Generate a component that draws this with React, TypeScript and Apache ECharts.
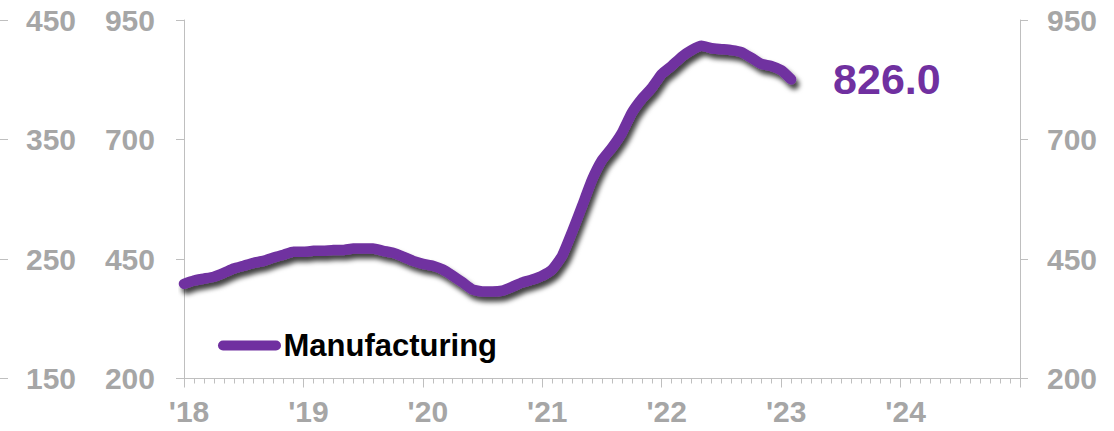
import React, { useEffect, useRef } from "react";
import * as echarts from "echarts";

// Monthly values, Jan 2018 .. Feb 2023
const manufacturing = [
  398, 405, 409, 413, 421, 430, 436, 442, 446, 453, 459, 465,
  465, 467, 467, 469, 469, 472, 472, 472, 467, 463, 455, 446,
  440, 436, 428, 415, 401, 386, 382, 382, 384, 392, 401, 407,
  415, 428, 457, 507, 561, 616, 657, 683, 714, 756, 785, 808,
  837, 854, 873, 887, 896, 891, 889, 887, 883, 871, 858, 854,
  845, 826,
];
const yearLabels = ["'18", "'19", "'20", "'21", "'22", "'23", "'24"];
const seriesName = "Manufacturing";
const lastLabel = "826.0";

const GRAY = "#a6a6a6";
const AXIS = "#bfbfbf";
const PURPLE = "#7030a0";
const FONT = "'Liberation Sans', Arial, sans-serif";

export default function App() {
  const ref = useRef<HTMLDivElement>(null);
  useEffect(() => {
    if (!ref.current) return;
    const chart = echarts.init(ref.current, null, { renderer: "svg" });
    const data = manufacturing.map((v, i) => [i, v]);
    const axisLabelStyle = {
      color: GRAY,
      fontSize: 30,
      fontWeight: "bold",
      fontFamily: FONT,
    };
    chart.setOption({
      animation: false,
      grid: { left: 184, right: 94, top: 20, bottom: 52.5 },
      legend: {
        left: 213,
        top: 325,
        icon: "path://M5,0 H58 A5,5 0 0 1 58,10 H5 A5,5 0 0 1 5,0 Z",
        itemWidth: 64,
        itemHeight: 10,
        itemGap: 0,
        itemStyle: { color: PURPLE, shadowBlur: 0, shadowColor: "transparent", shadowOffsetX: 0, shadowOffsetY: 0 },
        textStyle: { color: "#000", fontSize: 31, fontWeight: "bold", fontFamily: FONT, padding: [0, 0, 0, -3] },
        data: [seriesName],
      },
      xAxis: {
        type: "value",
        min: 0,
        max: 84,
        interval: 12,
        splitLine: { show: false },
        axisLine: { show: true, lineStyle: { color: AXIS, width: 1 } },
        axisTick: { show: true, length: 9, lineStyle: { color: AXIS } },
        minorTick: { show: true, splitNumber: 12, length: 5, lineStyle: { color: AXIS } },
        axisLabel: {
          ...axisLabelStyle,
          margin: 18,
          padding: [0, 0, 0, 10],
          showMaxLabel: false,
          formatter: (v: number) => yearLabels[Math.round(v / 12)] ?? "",
        },
      },
      yAxis: [
        {
          type: "value",
          position: "left",
          min: 200,
          max: 950,
          interval: 250,
          splitLine: { show: false },
          axisLine: { show: true, lineStyle: { color: AXIS } },
          axisTick: { show: true, length: 8, lineStyle: { color: AXIS } },
          axisLabel: { ...axisLabelStyle, margin: 29 },
        },
        {
          type: "value",
          position: "right",
          min: 200,
          max: 950,
          interval: 250,
          splitLine: { show: false },
          axisLine: { show: true, lineStyle: { color: AXIS } },
          axisTick: { show: true, length: 8, lineStyle: { color: AXIS } },
          axisLabel: { ...axisLabelStyle, margin: 27 },
        },
        {
          type: "value",
          position: "left",
          offset: 176,
          min: 150,
          max: 450,
          interval: 100,
          splitLine: { show: false },
          axisLine: { show: false },
          axisTick: { show: true, length: 8, lineStyle: { color: AXIS } },
          axisLabel: { ...axisLabelStyle, inside: true, margin: 18 },
        },
      ],
      series: [
        {
          name: seriesName,
          type: "line",
          yAxisIndex: 0,
          data,
          showSymbol: false,
          symbol: "none",
          smooth: 0.15,
          endLabel: {
            show: true,
            distance: 42,
            formatter: lastLabel,
            color: PURPLE,
            fontSize: 43,
            fontWeight: "bold",
            fontFamily: FONT,
            textShadowColor: "transparent",
          },
          lineStyle: {
            color: PURPLE,
            width: 10.5,
            cap: "round",
            join: "round",
            shadowColor: "rgba(0,0,0,0.75)",
            shadowBlur: 5,
            shadowOffsetX: 3,
            shadowOffsetY: 5,
          },
          itemStyle: { color: PURPLE },
        },
      ],
    });
    return () => chart.dispose();
  }, []);
  return (
    <div
      ref={ref}
      style={{ position: "fixed", left: 0, top: 0, width: 1114, height: 431, background: "#fff" }}
    />
  );
}
